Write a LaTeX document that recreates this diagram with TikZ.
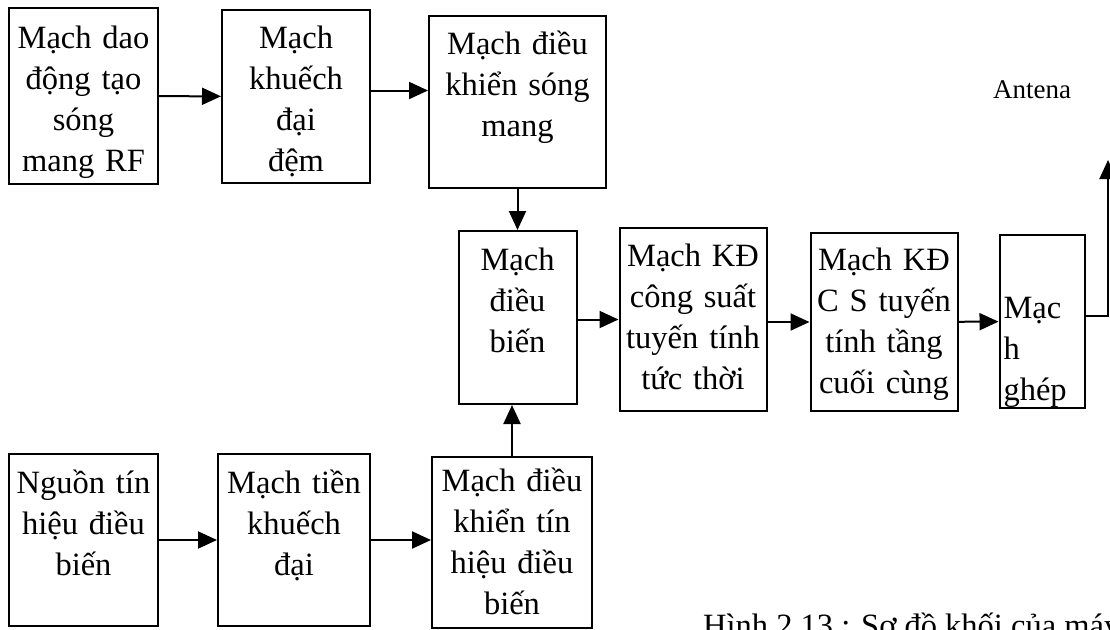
\documentclass[tikz,border=0pt]{standalone}
\usepackage{fontspec}
\setmainfont{Liberation Serif}
\usetikzlibrary{arrows.meta, positioning}
\tikzset{
	block/.style n args={3}{rectangle, draw=black, line width=2pt, align=center, inner xsep=4pt, inner ysep=0pt, text width=#1pt, text height=#2pt, text depth=#3pt, font=\fontsize{32.5}{41}\selectfont},
	antlabel/.style={anchor=base, inner sep=0pt, font=\fontsize{27}{32}\selectfont},
	caption/.style={anchor=base west, inner sep=0pt, font=\fontsize{32.5}{41}\selectfont},
	arrow/.style={-{Triangle[length=19pt, width=17pt]}, line width=2pt},
}

\begin{document}
\begin{tikzpicture}[x=1pt, y=-1pt]
		\useasboundingbox (0,0) rectangle (1110,629);
		\clip (0,0) rectangle (1110,629);
		% carrier path
		\node[block={141}{40}{136}, anchor=north west] (osc) at (8,7) {Mạch dao\\động tạo\\sóng\\mang RF};
		\node[block={140}{38}{135}, right=62pt of osc.north east, anchor=north west, yshift=-2pt] (buf) {Mạch\\khuếch\\đại\\đệm};
		\node[block={169}{38}{134}, right=57pt of buf.north east, anchor=north west, yshift=-6pt] (carr) {Mạch điều\\khiển sóng\\mang};
		% modulator and output stages
		\node[block={110}{39}{134}, below=41pt of carr] (mod) {Mạch\\điều\\biến};
		\node[block={139}{38}{145}, right=41pt of mod.north east, anchor=north west, yshift=3pt] (pa) {Mạch KĐ\\công suất\\tuyến tính\\tức thời};
		\node[block={139}{37}{141}, right=42pt of pa.north east, anchor=north west, yshift=-5pt] (fin) {Mạch KĐ\\C S tuyến\\tính tầng\\cuối cùng};
		\node[block={77}{83}{90}, right=40pt of fin.north east, anchor=north west, yshift=-2pt, align=left] (coup) {Mạc\\h\\ghép};
		\coordinate (ant) at (1108,160);
		\node[antlabel] (antlbl) at (1032,98) {Antena};
		% signal path
		\node[block={141}{39}{133}, anchor=north west] (src) at (8,453) {Nguồn tín\\hiệu điều\\biến};
		\node[block={144}{39}{133}, right=58pt of src.north east, anchor=north west] (pre) {Mạch tiền\\khuếch\\đại};
		\node[block={152}{34}{137}, right=60pt of pre.north east, anchor=north west, yshift=-3pt] (sig) {Mạch điều\\khiển tín\\hiệu điều\\biến};
		\node[caption] (cap) at (703,636) {Hình 2.13 : Sơ đồ khối của máy};
		\draw[arrow] (osc) -- (buf);
		\draw[arrow] ([yshift=6pt]buf.east) -- ([yshift=6pt]buf.east -| carr.west);
		\draw[arrow] (carr) -- (mod);
		\draw[arrow] (mod.east |- pa) -- (pa);
		\draw[arrow] (pa.east |- fin) -- (fin);
		\draw[arrow] (fin) -- (coup);
		\draw[arrow] ([yshift=6pt]coup.east) -| (ant);
		\draw[arrow] (src) -- (pre);
		\draw[arrow] (pre.east) -- (pre.east -| sig.west);
		\draw[arrow] (sig.north) -- (sig.north |- mod.south);
	\end{tikzpicture}
\end{document}
